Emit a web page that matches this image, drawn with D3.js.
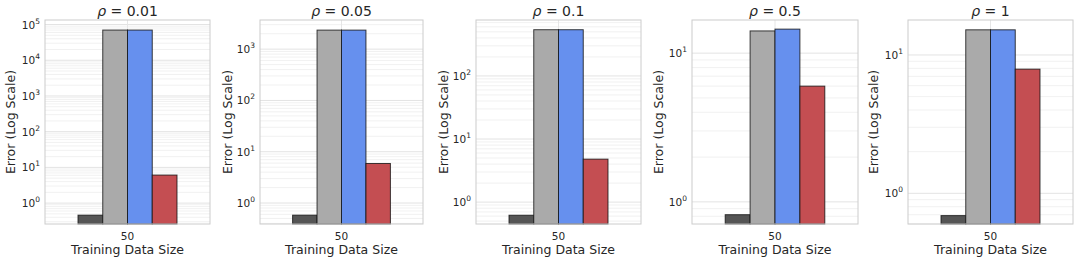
<!DOCTYPE html>
<html>
<head>
<meta charset="utf-8">
<script src="https://cdn.jsdelivr.net/npm/d3@7"></script>
<style>
  body { margin: 0; background: #fff; }
  svg { font-family: "DejaVu Sans", sans-serif; }
</style>
</head>
<body>
<svg id="chart" width="1079" height="261"></svg>
<script>
// values
const rhoLabels = ["0.01", "0.05", "0.1", "0.5", "1"];
const trainSizes = ["50"];
const seriesNames = ["A", "B", "C", "D"];
const seriesColors = ["#555555", "#aaaaaa", "#6690ee", "#c44e52"];
const errA = [0.46, 0.58, 0.62, 0.82, 0.69];
const errB = [70000, 2350, 540, 14.1, 15.2];
const errC = [70000, 2350, 540, 14.5, 15.2];
const errD = [6.1, 5.9, 4.8, 6.0, 7.9];
const yLow = [0.26, 0.39, 0.45, 0.71, 0.6];
const yHigh = [134000, 3700, 770, 16.7, 17.9];

const panels = [[45, 210], [260, 423], [476, 641], [692, 858], [908, 1073]];
const plotTop = 20, plotBottom = 224;

let svg = d3.select("#chart");

rhoLabels.forEach(function(rho, i){
  let left = panels[i][0], right = panels[i][1];
  let g = svg.append("g");
  let x = d3.scaleLinear().domain([-0.5, 0.5]).range([left, right]);
  let y = d3.scaleLog().domain([yLow[i], yHigh[i]]).range([plotBottom, plotTop]);

  // minor + major grid
  let lo = Math.floor(Math.log10(yLow[i])), hi = Math.ceil(Math.log10(yHigh[i]));
  let minor = [], major = [];
  for (let e = lo; e <= hi; e++) {
    for (let m = 1; m < 10; m++) {
      let v = m * Math.pow(10, e);
      if (v < yLow[i] || v > yHigh[i]) continue;
      if (m == 1) major.push(v); else minor.push(v);
    }
  }
  g.selectAll(".minor").data(minor).enter().append("line")
    .attr("x1", left).attr("x2", right)
    .attr("y1", d => y(d)).attr("y2", d => y(d))
    .attr("stroke", "#eeeeee").attr("stroke-width", 0.8);
  g.selectAll(".major").data(major).enter().append("line")
    .attr("x1", left).attr("x2", right)
    .attr("y1", d => y(d)).attr("y2", d => y(d))
    .attr("stroke", "#e3e3e3").attr("stroke-width", 1);
  g.append("line")
    .attr("x1", x(0)).attr("x2", x(0)).attr("y1", plotTop).attr("y2", plotBottom)
    .attr("stroke", "#e6e6e6");

  // bars
  let vals = [errA[i], errB[i], errC[i], errD[i]];
  let bw = 0.15;
  g.selectAll(".bar").data(vals).enter().append("rect")
    .attr("x", (d, j) => x(-0.3 + j * bw))
    .attr("width", x(bw) - x(0))
    .attr("y", d => y(d))
    .attr("height", d => plotBottom - y(d))
    .attr("fill", (d, j) => seriesColors[j])
    .attr("stroke", "#111").attr("stroke-opacity", 0.8).attr("stroke-width", 1);

  // frame
  g.append("rect")
    .attr("x", left).attr("y", plotTop).attr("width", right - left).attr("height", plotBottom - plotTop)
    .attr("fill", "none").attr("stroke", "#cccccc").attr("stroke-width", 1);

  // y tick labels
  let lab = g.selectAll(".ylab").data(major).enter().append("text")
    .attr("x", left - 5).attr("y", d => y(d) + 4)
    .attr("text-anchor", "end").attr("font-size", 10.5).attr("fill", "#262626");
  lab.append("tspan").text("10");
  lab.append("tspan").attr("dy", -5).attr("font-size", 7.5)
    .text(d => String(Math.round(Math.log10(d))).replace("-", "\u2212"));

  // x tick label
  g.append("text").attr("x", x(0)).attr("y", 240)
    .attr("text-anchor", "middle").attr("font-size", 10.5).attr("fill", "#262626")
    .text(trainSizes[0]);
  g.append("text").attr("x", (left + right) / 2).attr("y", 254)
    .attr("text-anchor", "middle").attr("font-size", 12.5).attr("fill", "#262626")
    .text("Training Data Size");

  // y label
  let yLabX = [15, 232, 448, 663, 878][i];
  g.append("text")
    .attr("transform", "translate(" + yLabX + "," + (plotTop + plotBottom) / 2 + ") rotate(-90)")
    .attr("text-anchor", "middle").attr("font-size", 12.5).attr("fill", "#262626")
    .text("Error (Log Scale)");

  // title
  let t = g.append("text").attr("x", (left + right) / 2).attr("y", 16)
    .attr("text-anchor", "middle").attr("font-size", 14).attr("fill", "#262626");
  t.append("tspan").attr("font-style", "italic").text("\u03c1");
  t.append("tspan").text(" = " + rho);
});
</script>
</body>
</html>
